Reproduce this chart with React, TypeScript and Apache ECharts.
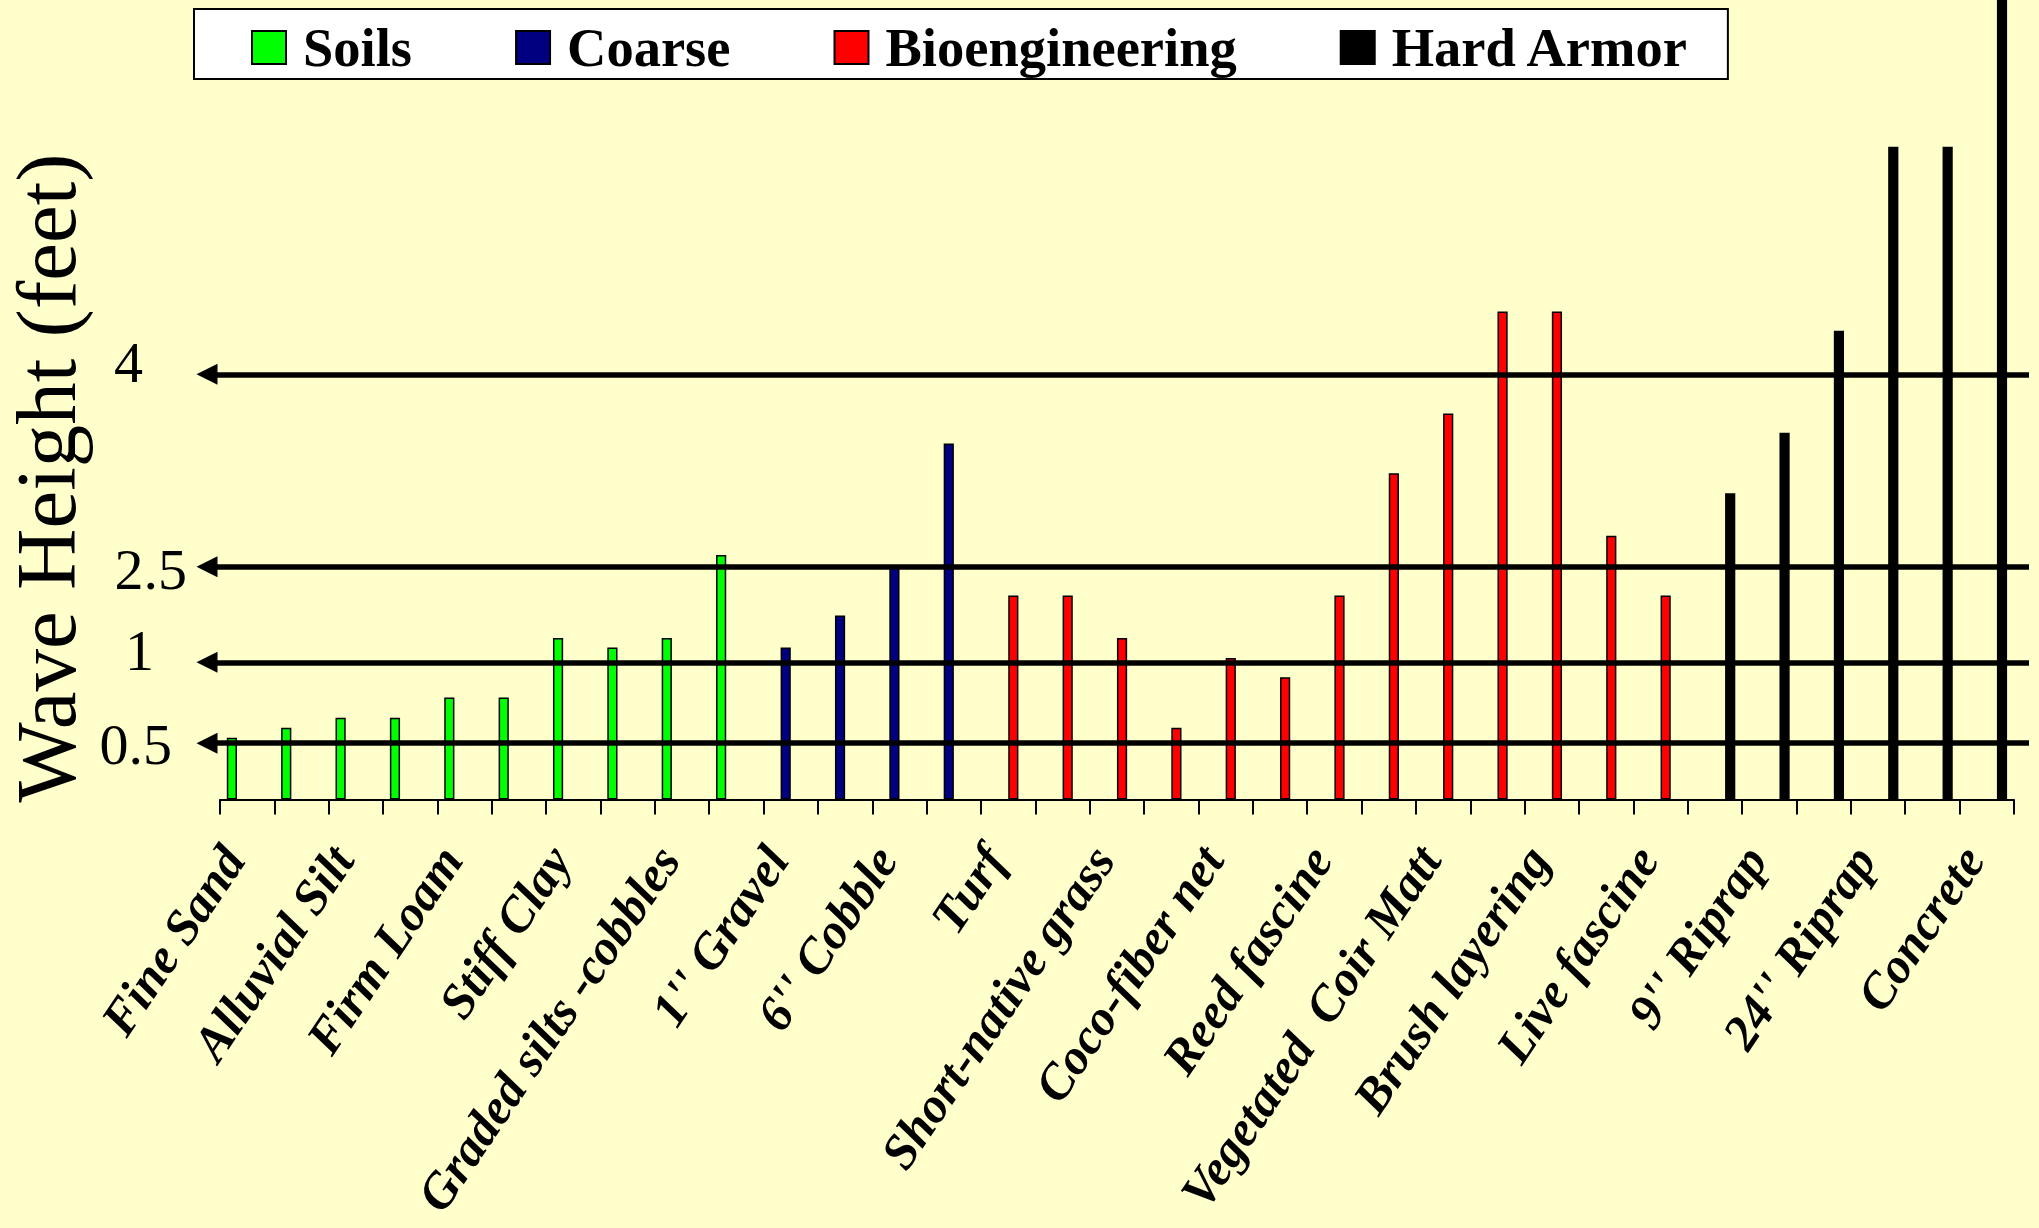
import React, { useEffect, useRef } from 'react';
import * as echarts from 'echarts';

// Category axis (every other category name is printed on the original chart)
const categories: string[] = [
  'Fine Sand', '', 'Alluvial Silt', '', 'Firm Loam', '', 'Stiff Clay', '',
  'Graded silts -cobbles', '', "1'' Gravel", '', "6'' Cobble", '', 'Turf', '',
  'Short-native grass', '', 'Coco-fiber net', '', 'Reed fascine', '',
  'Vegetated  Coir Matt', '', 'Brush layering', '', 'Live fascine', '',
  "9'' Riprap", '', "24'' Riprap", '', 'Concrete',
];

// Bar heights on the chart's (non-uniform) plotting scale, where the "4 ft" arrow sits at 4
const soils = [0.58, 0.675, 0.77, 0.77, 0.96, 0.96, 1.52, 1.43, 1.52, 2.3];
const coarse = [1.43, 1.73, 2.19, 3.35];
const bioengineering = [1.92, 1.92, 1.52, 0.675, 1.33, 1.15, 1.92, 3.07, 3.63, 4.59, 4.59, 2.48, 1.92];
const hardArmor = [2.88, 3.45, 4.41, 6.14, 6.14, 8.0];

// Reference arrows: printed wave heights (feet) and where they sit on the plotting scale
const levelLabels = ['0.5', '1', '2.5', '4'];
const levelPositions = [0.534, 1.287, 2.19, 4.0];

const Y_MAX = 7.521;

const seriesNames = ['Soils', 'Coarse', 'Bioengineering', 'Hard Armor'];
const seriesColors = ['#00FF00', '#000080', '#FF0000', '#000000'];

// label layout (hand-placed in the original)
const levelLabelRight = [172, 154, 187, 143];
const levelLabelDy = [2, -12, 3, -12];

export default function App() {
  const ref = useRef<HTMLDivElement>(null);

  useEffect(() => {
    const el = ref.current!;
    const chart = echarts.init(el, null, { renderer: 'svg' });

    const groups = [soils, coarse, bioengineering, hardArmor];
    let start = 0;
    const barSeries = groups.map((vals, gi) => {
      const s = start;
      start += vals.length;
      const data = categories.map((_, i) => (i >= s && i < s + vals.length ? vals[i - s] : null));
      return {
        name: seriesNames[gi],
        type: 'bar',
        xAxisIndex: 0,
        yAxisIndex: 0,
        data,
        barGap: '0%',
        barCategoryGap: '25%',
        clip: true,
        itemStyle: {
          color: seriesColors[gi],
          borderColor: '#000',
          borderWidth: 1.5,
        },
        z: 2,
      };
    });

    const font = 'Liberation Serif';

    chart.setOption({
      animation: false,
      backgroundColor: '#FFFFCC',
      legend: {
        left: 194,
        top: 9,
        orient: 'horizontal',
        icon: 'rect',
        itemWidth: 34,
        itemHeight: 33,
        itemGap: 103,
        backgroundColor: '#FFFFFF',
        borderColor: '#000',
        borderWidth: 2,
        padding: [11, 38, 4, 57],
        selectedMode: false,
        data: seriesNames,
        textStyle: {
          fontFamily: font,
          fontWeight: 'bold',
          fontSize: 54.5,
          color: '#000',
          padding: [0, 0, 0, 12],
        },
      },
      grid: [
        { left: 220, right: 25.1, top: 0, bottom: 428.5, containLabel: false },
        { left: 207, right: 10, top: 0, bottom: 428.5, containLabel: false },
      ],
      xAxis: [
        {
          type: 'category',
          gridIndex: 0,
          data: categories,
          axisLine: { show: true, lineStyle: { color: '#000', width: 2 } },
          axisTick: { show: true, interval: 0, alignWithLabel: false, length: 15, lineStyle: { color: '#000', width: 2 } },
          axisLabel: {
            interval: 1,
            rotate: 56,
            margin: 61,
            verticalAlign: 'bottom',
            lineHeight: 34,
            fontFamily: font,
            fontWeight: 'bold',
            fontStyle: 'italic',
            fontSize: 50,
            color: '#000',
          },
          splitLine: { show: false },
        },
        { type: 'value', gridIndex: 1, min: 0, max: 1, show: false },
      ],
      yAxis: [
        { type: 'value', gridIndex: 0, min: 0, max: Y_MAX, show: false, splitLine: { show: false } },
        { type: 'value', gridIndex: 1, min: 0, max: Y_MAX, show: false, splitLine: { show: false } },
      ],
      series: [
        ...barSeries,
        {
          name: 'levels',
          type: 'line',
          xAxisIndex: 1,
          yAxisIndex: 1,
          data: [],
          z: 5,
          silent: true,
          markLine: {
            silent: true,
            animation: false,
            symbol: ['triangle', 'none'],
            symbolSize: 21,
            label: { show: false },
            lineStyle: { color: '#000', width: 5.5, type: 'solid' },
            data: levelPositions.map((v, i) => ({ yAxis: v, name: levelLabels[i] })),
          },
        },
      ],
    });

    const graphics: any[] = levelPositions.map((v, i) => {
      const y = chart.convertToPixel({ yAxisIndex: 1 }, v) as number;
      return {
        type: 'text',
        x: levelLabelRight[i],
        y: y + levelLabelDy[i],
        silent: true,
        style: {
          text: levelLabels[i],
          fontFamily: font,
          fontSize: 58,
          fill: '#000',
          align: 'right',
          verticalAlign: 'middle',
        },
      };
    });
    graphics.push({
      type: 'text',
      x: 46,
      y: 478,
      rotation: Math.PI / 2,
      silent: true,
      style: {
        text: 'Wave Height (feet)',
        fontFamily: font,
        fontSize: 85,
        lineHeight: 85,
        fill: '#000',
        align: 'center',
        verticalAlign: 'middle',
      },
    });
    chart.setOption({ graphic: graphics });

    return () => chart.dispose();
  }, []);

  return (
    <div
      ref={ref}
      style={{ position: 'absolute', left: 0, top: 0, width: 2039, height: 1228 }}
    />
  );
}
